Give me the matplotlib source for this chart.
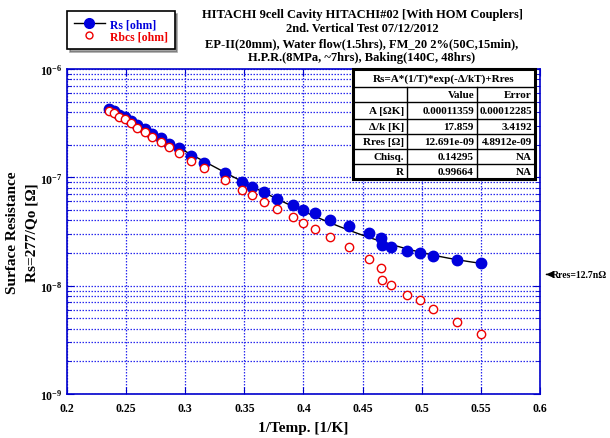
import numpy as np
import matplotlib
matplotlib.use("Agg")
import matplotlib.pyplot as plt
from matplotlib.lines import Line2D
from matplotlib.patches import Rectangle

plt.rcParams['font.family'] = ['Liberation Serif', 'DejaVu Serif']
plt.rcParams['font.weight'] = 'bold'
plt.rcParams['mathtext.fontset'] = 'custom'
plt.rcParams['mathtext.rm'] = 'Liberation Serif:bold'
plt.rcParams['mathtext.bf'] = 'Liberation Serif:bold'
plt.rcParams['mathtext.it'] = 'Liberation Serif:bold:italic'

# 1/T [1/K]
inv_t = [0.2359, 0.2400, 0.2440, 0.2490, 0.2541, 0.2592, 0.2660, 0.2723,
         0.2793, 0.2860, 0.2950, 0.3049, 0.3159, 0.3336, 0.3477, 0.3564,
         0.3666, 0.3778, 0.3909, 0.3998, 0.4095, 0.4224, 0.4387, 0.4554,
         0.4653, 0.4664, 0.4742, 0.4873, 0.4985, 0.5099, 0.5302, 0.5499]
# Rs [ohm]
rs = [4.30e-7, 4.10e-7, 3.80e-7, 3.60e-7, 3.31e-7, 3.04e-7, 2.79e-7, 2.51e-7,
      2.31e-7, 2.03e-7, 1.85e-7, 1.57e-7, 1.37e-7, 1.09e-7, 9.12e-8, 8.20e-8,
      7.28e-8, 6.31e-8, 5.55e-8, 5.03e-8, 4.64e-8, 4.06e-8, 3.55e-8, 3.04e-8,
      2.75e-8, 2.37e-8, 2.27e-8, 2.11e-8, 2.00e-8, 1.88e-8, 1.73e-8, 1.63e-8]
# Rbcs [ohm]
rbcs = [4.12e-7, 3.90e-7, 3.60e-7, 3.43e-7, 3.15e-7, 2.87e-7, 2.64e-7, 2.34e-7,
        2.13e-7, 1.89e-7, 1.68e-7, 1.43e-7, 1.23e-7, 9.45e-8, 7.69e-8, 6.83e-8,
        5.96e-8, 5.07e-8, 4.30e-8, 3.75e-8, 3.33e-8, 2.81e-8, 2.27e-8, 1.75e-8,
        1.47e-8, 1.12e-8, 1.01e-8, 8.20e-9, 7.30e-9, 6.05e-9, 4.60e-9, 3.60e-9]

# fit parameters (from the table)
fit_A = 0.00011359
fit_delta = 17.859
fit_rres = 12.691e-09

table_rows = [
    ["A [ΩK]", "0.00011359", "0.00012285"],
    ["Δ/k [K]", "17.859", "3.4192"],
    ["Rres [Ω]", "12.691e-09", "4.8912e-09"],
    ["Chisq.", "0.14295", "NA"],
    ["R", "0.99664", "NA"],
]

W, H = 610, 439
fig = plt.figure(figsize=(W / 100, H / 100), dpi=100)
ax = fig.add_axes([67 / W, 1 - 395 / H, (540 - 67) / W, (395 - 70) / H])

# fit curve
xf = np.linspace(min(inv_t), max(inv_t), 200)
yf = fit_A * xf * np.exp(-fit_delta * xf) + fit_rres
ax.plot(xf, yf, color='black', lw=1, zorder=3)

ax.plot(inv_t, rs, 'o', ms=7.5, color='#0000dd', mec='#0000dd', zorder=4)
ax.plot(inv_t, rbcs, 'o', ms=6, mfc='white', mec='#ee0000', mew=1, zorder=5)

ax.set_yscale('log')
ax.set_xlim(0.2, 0.6)
ax.set_ylim(1e-9, 1e-6)
ax.set_xticks(np.arange(0.2, 0.601, 0.05))
ax.set_xticklabels(['0.2', '0.25', '0.3', '0.35', '0.4', '0.45', '0.5', '0.55', '0.6'])

gcol = '#2a2aee'
ax.grid(True, which='major', axis='both', color=gcol, ls=(0, (1.2, 1.2)), lw=0.9)
ax.grid(True, which='minor', axis='y', color=gcol, ls=(0, (1.2, 1.2)), lw=0.9)
for s in ax.spines.values():
    s.set_color('#0000cc')
    s.set_linewidth(1.2)
ax.tick_params(which='both', direction='in', top=True, right=True,
               color='#0000cc', labelsize=8.5, labelcolor='black')
ax.tick_params(which='major', length=5)
ax.tick_params(which='minor', length=3)
ax.tick_params(axis='x', pad=6)
ax.tick_params(axis='y', which='minor', labelleft=False)

ax.set_xlabel('1/Temp. [1/K]', fontsize=11, fontweight='bold', labelpad=5)
ax.set_ylabel('Surface Resistance\nRs=277/Qo [Ω]', fontsize=11,
              fontweight='bold', labelpad=1, linespacing=1.6)

# title
fig.text(362 / W, 1 - 9 / H,
         'HITACHI 9cell Cavity HITACHI#02 [With HOM Couplers]\n'
         '2nd. Vertical Test 07/12/2012\n'
         'EP-II(20mm), Water flow(1.5hrs), FM_20 2%(50C,15min),\n'
         'H.P.R.(8MPa, ~7hrs), Baking(140C, 48hrs)',
         ha='center', va='top', fontsize=9, fontweight='bold', linespacing=1.27)

# legend
handles = [Line2D([], [], color='black', lw=1, marker='o', ms=7, mfc='#0000dd', mec='#0000dd'),
           Line2D([], [], ls='none', marker='o', ms=5, mfc='white', mec='#ee0000')]
leg = fig.legend(handles, ['Rs [ohm]', 'Rbcs [ohm]'], loc='upper left',
                 bbox_to_anchor=(67 / W, 1 - 12 / H), fancybox=False, shadow=True,
                 edgecolor='black', framealpha=1, fontsize=8.5, handlelength=2.6,
                 handletextpad=0.4, borderpad=0.6, labelspacing=0.0, borderaxespad=0)
leg.get_frame().set_linewidth(1.2)
leg.get_texts()[0].set_color('#0000dd')
leg.get_texts()[1].set_color('#ee0000')


# fit table, drawn in figure pixels
def fx(px):
    return px / W


def fy(py):
    return 1 - py / H


t_left, t_right, t_top, t_bot = 353, 535, 70, 180
col_x = [t_left, 407, 477, t_right]
row_y = [t_top, 88, 103, 120, 135, 150, 165, t_bot]
fig.patches.append(Rectangle((fx(t_left), fy(t_bot)), fx(t_right - t_left), (t_bot - t_top) / H,
                             transform=fig.transFigure, facecolor='white',
                             edgecolor='black', lw=2.2, zorder=10))
for yy in row_y[1:-1]:
    fig.add_artist(Line2D([fx(t_left), fx(t_right)], [fy(yy), fy(yy)], color='black', lw=1, zorder=11))
for xx in col_x[1:-1]:
    fig.add_artist(Line2D([fx(xx), fx(xx)], [fy(row_y[1]), fy(t_bot)], color='black', lw=1, zorder=11))
fig.text(fx((t_left + t_right) / 2), fy((row_y[0] + row_y[1]) / 2), 'Rs=A*(1/T)*exp(-Δ/kT)+Rres',
         ha='center', va='center', fontsize=8, fontweight='bold', zorder=12)
fig.text(fx(col_x[2] - 3), fy((row_y[1] + row_y[2]) / 2), 'Value', ha='right', va='center',
         fontsize=8, fontweight='bold', zorder=12)
fig.text(fx(col_x[3] - 3), fy((row_y[1] + row_y[2]) / 2), 'Error', ha='right', va='center',
         fontsize=8, fontweight='bold', zorder=12)
for i, row in enumerate(table_rows):
    yc = fy((row_y[i + 2] + row_y[i + 3]) / 2)
    for j, cell in enumerate(row):
        fig.text(fx(col_x[j + 1] - 3), yc, cell, ha='right', va='center',
                 fontsize=8, fontweight='bold', zorder=12)

# Rres marker on the right
ax.annotate('Rres=12.7nΩ', xy=(1.006, fit_rres), xycoords=('axes fraction', 'data'),
            xytext=(1.026, fit_rres), textcoords=('axes fraction', 'data'),
            va='center', ha='left', fontsize=7, fontweight='bold',
            arrowprops=dict(arrowstyle='-|>,head_length=0.6,head_width=0.25', color='black', lw=1),
            annotation_clip=False)

fig.savefig('out.png', dpi=100)
